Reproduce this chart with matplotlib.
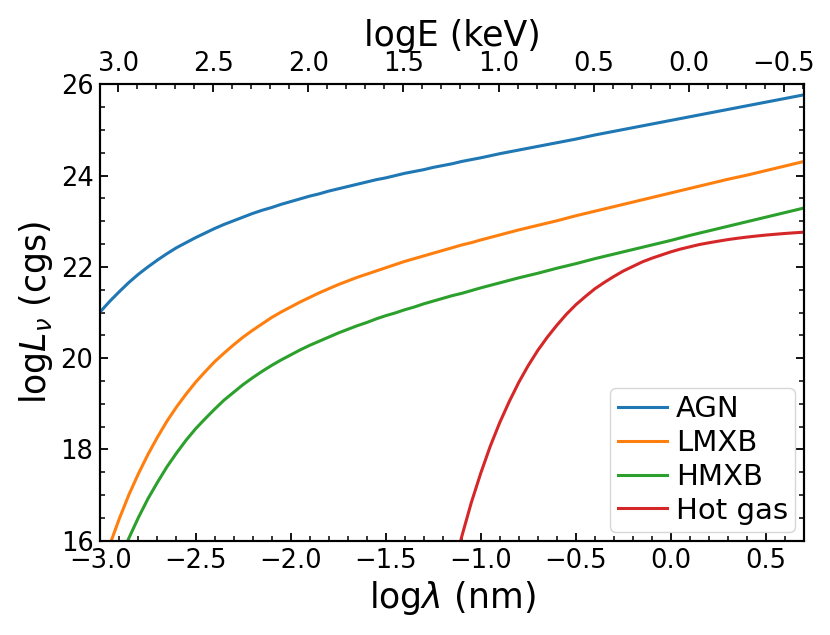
import matplotlib
matplotlib.use("Agg")
import matplotlib.pyplot as plt
from matplotlib.ticker import MultipleLocator, AutoMinorLocator
import numpy as np

# log wavelength grid (nm) for the power-law sources
log_lambda = [-3.0, -2.95, -2.9, -2.85, -2.8, -2.75, -2.7, -2.65, -2.6, -2.55,
              -2.5, -2.45, -2.4, -2.35, -2.3, -2.25, -2.2, -2.15, -2.1, -2.05,
              -2.0, -1.95, -1.9, -1.85, -1.8, -1.75, -1.7, -1.65, -1.6, -1.55,
              -1.5, -1.45, -1.4, -1.35, -1.3, -1.25, -1.2, -1.15, -1.1, -1.05,
              -1.0, -0.9, -0.8, -0.7, -0.6, -0.5, -0.4, -0.3, -0.2, -0.1,
              0.0, 0.1, 0.2, 0.3, 0.4, 0.5, 0.6, 0.7]

agn = [21.02, 21.25, 21.46, 21.66, 21.84, 22.00, 22.15, 22.29, 22.42, 22.53,
       22.64, 22.74, 22.84, 22.93, 23.01, 23.09, 23.17, 23.24, 23.30, 23.37,
       23.43, 23.49, 23.55, 23.60, 23.66, 23.71, 23.76, 23.81, 23.86, 23.91,
       23.95, 24.00, 24.05, 24.09, 24.13, 24.18, 24.22, 24.26, 24.31, 24.35,
       24.39, 24.48, 24.56, 24.64, 24.72, 24.80, 24.89, 24.97, 25.05, 25.13,
       25.21, 25.29, 25.37, 25.45, 25.53, 25.61, 25.69, 25.77]

lmxb = [15.28, 15.92, 16.49, 17.01, 17.47, 17.89, 18.27, 18.62, 18.93, 19.21,
        19.47, 19.70, 19.92, 20.11, 20.29, 20.46, 20.61, 20.75, 20.89, 21.01,
        21.12, 21.23, 21.33, 21.43, 21.52, 21.61, 21.69, 21.77, 21.84, 21.91,
        21.98, 22.05, 22.12, 22.18, 22.24, 22.30, 22.36, 22.42, 22.48, 22.53,
        22.59, 22.70, 22.81, 22.91, 23.01, 23.12, 23.22, 23.32, 23.42, 23.52,
        23.62, 23.72, 23.82, 23.92, 24.01, 24.11, 24.21, 24.31]

hmxb = [14.39, 15.01, 15.56, 16.06, 16.51, 16.92, 17.28, 17.62, 17.92, 18.20,
        18.45, 18.67, 18.88, 19.08, 19.25, 19.42, 19.57, 19.71, 19.84, 19.96,
        20.07, 20.18, 20.28, 20.37, 20.46, 20.55, 20.63, 20.71, 20.78, 20.86,
        20.93, 20.99, 21.06, 21.12, 21.19, 21.25, 21.31, 21.37, 21.42, 21.48,
        21.54, 21.65, 21.76, 21.86, 21.97, 22.07, 22.18, 22.28, 22.38, 22.48,
        22.58, 22.69, 22.79, 22.89, 22.99, 23.09, 23.19, 23.29]

# hot gas on its own grid
log_lambda_gas = [-1.15, -1.1, -1.05, -1.0, -0.95, -0.9, -0.85, -0.8, -0.75, -0.7,
                  -0.65, -0.6, -0.55, -0.5, -0.45, -0.4, -0.35, -0.3, -0.25, -0.2,
                  -0.15, -0.1, -0.05, 0.0, 0.05, 0.1, 0.15, 0.2, 0.25, 0.3,
                  0.35, 0.4, 0.45, 0.5, 0.55, 0.6, 0.65, 0.7]
hot_gas = [15.24, 16.09, 16.83, 17.48, 18.07, 18.59, 19.05, 19.47, 19.84, 20.17,
           20.46, 20.72, 20.96, 21.17, 21.35, 21.52, 21.66, 21.79, 21.91, 22.01,
           22.11, 22.19, 22.26, 22.33, 22.39, 22.44, 22.49, 22.528, 22.564, 22.598,
           22.627, 22.653, 22.676, 22.697, 22.715, 22.732, 22.747, 22.76]

labels = ["AGN", "LMXB", "HMXB", "Hot gas"]
colors = ["#1f77b4", "#ff7f0e", "#2ca02c", "#d62728"]

LOG_HC = np.log10(1.23984)  # E(keV) = 1.23984 / lambda(nm)
xlim = (-3.0, 0.7)
ylim = (16, 26)

fig = plt.figure(figsize=(8.3, 6.35), dpi=100)
ax = fig.add_axes([0.121, 0.1485, 0.8477, 0.7187])

series = [(log_lambda, agn), (log_lambda, lmxb), (log_lambda, hmxb), (log_lambda_gas, hot_gas)]
for (xs, ys), lab, c in zip(series, labels, colors):
    ax.plot(xs, ys, color=c, lw=2.2, label=lab)

ax.set_xlim(*xlim)
ax.set_ylim(*ylim)
ax.xaxis.set_major_locator(MultipleLocator(0.5))
ax.xaxis.set_minor_locator(AutoMinorLocator(5))
ax.yaxis.set_major_locator(MultipleLocator(2))
ax.yaxis.set_minor_locator(AutoMinorLocator(4))
ax.set_xlabel(r"log$\lambda$ (nm)", fontsize=25)
ax.set_ylabel(r"log$L_\nu$ (cgs)", fontsize=25)

ax2 = ax.twiny()
ax2.set_xlim(LOG_HC - xlim[0], LOG_HC - xlim[1])
ax2.xaxis.set_major_locator(MultipleLocator(0.5))
ax2.xaxis.set_minor_locator(AutoMinorLocator(5))
ax2.set_xlabel("logE (keV)", fontsize=25)

for a in (ax, ax2):
    for s in a.spines.values():
        s.set_linewidth(1.5)
ax.tick_params(axis='both', which='both', direction='in', labelsize=18.5, pad=5)
ax.tick_params(axis='y', which='both', right=True)
ax.tick_params(which='major', length=6, width=1.3)
ax.tick_params(which='minor', length=3.5, width=1.1)
ax2.tick_params(axis='x', which='both', direction='in', labelsize=18.5, pad=5)
ax2.tick_params(which='major', length=6, width=1.3)
ax2.tick_params(which='minor', length=3.5, width=1.1)

ax.legend(loc='lower right', fontsize=21, borderpad=0.25, labelspacing=0.2,
          handlelength=1.7, handletextpad=0.3, borderaxespad=0.3)

fig.savefig("out.png", dpi=100)
